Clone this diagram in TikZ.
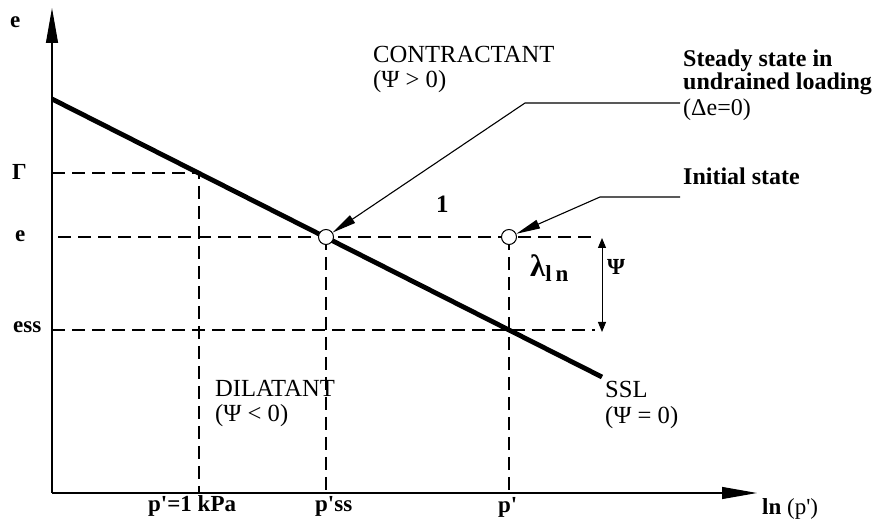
\documentclass[tikz,border=0pt]{standalone}
\usepackage{fontspec}
\setmainfont{Liberation Serif}
\usetikzlibrary{arrows.meta}
\begin{document}
\begin{tikzpicture}[x=1pt,y=-1pt,
  axis/.style={line width=1.2pt,-{Triangle[length=35pt,width=12pt]}},
  dashline/.style={line width=1.3pt,dash pattern=on 13pt off 7pt},
  ssl/.style={line width=4.8pt},
  leader/.style={line width=1.1pt,-{Triangle[length=24pt,width=9pt]}},
  state/.style={circle,draw,fill=white,line width=1pt,minimum size=15pt,inner sep=0pt},
  bl/.style={anchor=base west,inner sep=0pt,font=\fontsize{23}{26}\selectfont\bfseries},
  bt/.style={anchor=base west,inner sep=0pt,font=\fontsize{24}{27}\selectfont\bfseries},
  rl/.style={anchor=base west,inner sep=0pt,font=\fontsize{24.6}{28}\selectfont}]
\useasboundingbox (0,0) rectangle (879,526);
% axes
\coordinate (O) at (52,493);
\coordinate (ytop) at (52,8);
\coordinate (xend) at (757,493);
\draw[axis] (O) -- (ytop);
\draw[axis] (O) -- (xend);
% reference levels
\coordinate (G0) at (52,173);
\coordinate (G1) at (199,173);
\coordinate (G2) at (199,493);
\coordinate (E0) at (58,237);
\coordinate (E1) at (595,237);
\coordinate (S0) at (52,330);
\coordinate (S1) at (595,330);
\coordinate (P1) at (326,493);
\coordinate (P2) at (509,493);
\coordinate (P2top) at (509,237);
\coordinate (P1top) at (326,237);
\draw[dashline] (G0) -- (G1) -- (G2);
\draw[dashline] (E0) -- (E1);
\draw[dashline] (S0) -- (S1);
\draw[dashline] (P1top) -- (P1);
\draw[dashline] (P2top) -- (P2);
% steady state line
\coordinate (L0) at (52,99);
\coordinate (L1) at (602,377);
\draw[ssl] (L0) -- (L1);
% states
\node[state] (ss) at (326,237) {};
\node[state] (init) at (509,237) {};
% psi arrow
\coordinate (PsiA) at (602,238);
\coordinate (PsiB) at (602,332);
\draw[line width=1pt,{Triangle[length=10pt,width=8pt]}-{Triangle[length=10pt,width=8pt]}] (PsiA) -- (PsiB);
% leaders
\coordinate (La) at (680,103);
\coordinate (Lb) at (525,103);
\coordinate (Ma) at (680,197);
\coordinate (Mb) at (600,197);
\draw[leader] (La) -- (Lb) -- (ss);
\draw[leader] (Ma) -- (Mb) -- (init);
% labels
\node[bl] (ye) at (10,28) {e};
\node[bl] (lG) at (12,180) {Γ};
\node[bl] (le) at (15,242) {e};
\node[bl] (less) at (13,333) {ess};
\node[bl] (lp1) at (148,512) {p\textquotesingle=1 kPa};
\node[bl] (lpss) at (315,512) {p\textquotesingle ss};
\node[bl] (lp) at (498,513) {p\textquotesingle};
\node[bl] (lx) at (762,515) {ln \mdseries (p\textquotesingle)};
\node[rl] (c1) at (373,63) {CONTRACTANT};
\node[rl] (c2) at (373,88) {(Ψ > 0)};
\node[rl] (d1) at (215,397) {DILATANT};
\node[rl] (d2) at (215,422) {(Ψ < 0)};
\node[rl] (s1) at (605,398) {SSL};
\node[rl] (s2) at (605,424) {(Ψ = 0)};
\node[bt] (t1) at (683,67) {Steady state in};
\node[bt] (t2) at (683,90) {undrained loading};
\node[rl,font=\fontsize{24}{27}\selectfont] (t3) at (683,116) {(Δe=0)};
\node[bt] (t4) at (683,185) {Initial state};
\node[bl,font=\fontsize{25}{28}\selectfont\bfseries] (one) at (436,213) {1};
\node[bl,font=\fontsize{31}{34}\selectfont\bfseries] (lam) at (530,277) {λ\raisebox{-5pt}{\fontsize{23}{26}\selectfont l\,n}};
\node[bl] (psi) at (607,275) {Ψ};
\end{tikzpicture}
\end{document}
